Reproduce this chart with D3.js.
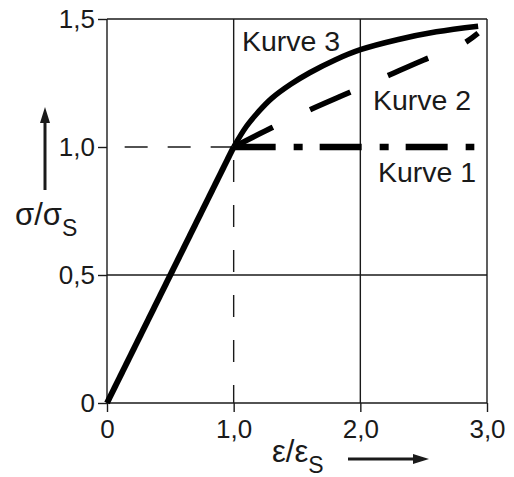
<!DOCTYPE html>
<html>
<head>
<meta charset="utf-8">
<script src="https://cdn.jsdelivr.net/npm/d3@7"></script>
<style>
  body { margin: 0; background: #fff; }
  svg { display: block; font-family: "Liberation Sans", Arial, sans-serif; }
</style>
</head>
<body>
<script>
// Data:
const xTicks = [0, 1, 2, 3];
const xTickLabels = ["0", "1,0", "2,0", "3,0"];
const yTicks = [0, 0.5, 1, 1.5];
const yTickLabels = ["0", "0,5", "1,0", "1,5"];

const elastic = [[0, 0], [1, 1]];
const kurve1 = [[1, 1], [2.9, 1]];
const kurve2 = [[1, 1], [1.3, 1.075], [1.6, 1.145], [1.9, 1.21], [2.2, 1.275], [2.5, 1.34], [2.8, 1.4], [2.93, 1.445]];
const kurve3 = [[1, 1], [1.1, 1.08], [1.2, 1.14], [1.3, 1.19], [1.45, 1.245], [1.6, 1.29], [1.8, 1.34], [2.0, 1.38], [2.3, 1.42], [2.6, 1.45], [2.93, 1.472]];

const curveLabels = [
  { text: "Kurve 3", x: 242, y: 51 },
  { text: "Kurve 2", x: 373, y: 110 },
  { text: "Kurve 1", x: 378, y: 182 }
];

// Variable setup:
const width = 514;
const height = 477;
const ink = "#1a1a1a";

const svg = d3.select("body").append("svg")
  .attr("width", width)
  .attr("height", height);

const xScale = d3.scaleLinear().domain([0, 3]).range([107, 487]);
const yScale = d3.scaleLinear().domain([0, 1.5]).range([403, 19]);

// Adding grid:
const grid = svg.append("g").attr("stroke", ink).attr("stroke-width", 1.4);

[0, 0.5, 1.5].forEach((v) => {
  grid.append("line")
    .attr("x1", xScale(0)).attr("x2", xScale(3))
    .attr("y1", yScale(v)).attr("y2", yScale(v));
});
[0, 2, 3].forEach((v) => {
  grid.append("line")
    .attr("x1", xScale(v)).attr("x2", xScale(v))
    .attr("y1", yScale(0)).attr("y2", yScale(1.5));
});
// x = 1 solid above the yield point, dashed below
grid.append("line")
  .attr("x1", xScale(1)).attr("x2", xScale(1))
  .attr("y1", yScale(1)).attr("y2", yScale(1.5));
grid.append("line")
  .attr("x1", xScale(1)).attr("x2", xScale(1))
  .attr("y1", yScale(1)).attr("y2", yScale(0))
  .attr("stroke-dasharray", "22,23")
  .attr("stroke-dashoffset", 32);
// y = 1 dashed from the yield point to the axis
grid.append("line")
  .attr("x1", xScale(1)).attr("x2", xScale(0))
  .attr("y1", yScale(1)).attr("y2", yScale(1))
  .attr("stroke-dasharray", "23,20");

// Adding axes:
const xAxis = d3.axisBottom(xScale)
  .tickValues(xTicks)
  .tickFormat((d, i) => xTickLabels[i])
  .tickSize(9)
  .tickPadding(8);
const yAxis = d3.axisLeft(yScale)
  .tickValues(yTicks)
  .tickFormat((d, i) => yTickLabels[i])
  .tickSize(9)
  .tickPadding(3);

[
  svg.append("g").attr("transform", `translate(0, ${yScale(0)})`).call(xAxis),
  svg.append("g").attr("transform", `translate(${xScale(0)}, 0)`).call(yAxis)
].forEach((g) => {
  g.select(".domain").remove();
  g.selectAll(".tick line").attr("stroke", ink).attr("stroke-width", 1.4);
  g.selectAll(".tick text")
    .attr("fill", ink)
    .style("font-size", "26px")
    .style("font-family", "'Liberation Sans', Arial, sans-serif");
});

// Adding curves:
const line = d3.line()
  .x((d) => xScale(d[0]))
  .y((d) => yScale(d[1]));
const smooth = d3.line()
  .x((d) => xScale(d[0]))
  .y((d) => yScale(d[1]))
  .curve(d3.curveCatmullRom.alpha(0.5));

svg.append("path")
  .attr("d", line(elastic))
  .attr("fill", "none").attr("stroke", "#000")
  .attr("stroke-width", 6);

svg.append("path")
  .attr("d", line(kurve1))
  .attr("fill", "none").attr("stroke", "#000")
  .attr("stroke-width", 6.5)
  .attr("stroke-dasharray", "42,18,9,17");

svg.append("path")
  .attr("d", smooth(kurve2))
  .attr("fill", "none").attr("stroke", "#000")
  .attr("stroke-width", 5.5)
  .attr("stroke-dasharray", "44,41");

svg.append("path")
  .attr("d", smooth(kurve3))
  .attr("fill", "none").attr("stroke", "#000")
  .attr("stroke-width", 5.5);

// Adding curve labels:
svg.selectAll(".curve-label")
  .data(curveLabels)
  .enter()
  .append("text")
  .attr("class", "curve-label")
  .attr("x", (d) => d.x)
  .attr("y", (d) => d.y)
  .attr("fill", ink)
  .style("font-size", "28.5px")
  .text((d) => d.text);

// Adding axis titles with arrows:
const yTitle = svg.append("text")
  .attr("x", 15).attr("y", 225)
  .attr("fill", ink)
  .style("font-size", "31px");
yTitle.append("tspan").text("σ/σ");
yTitle.append("tspan").attr("dy", 11).style("font-size", "23px").text("S");

svg.append("line")
  .attr("x1", 45).attr("x2", 45)
  .attr("y1", 190).attr("y2", 118)
  .attr("stroke", ink).attr("stroke-width", 3);
svg.append("path")
  .attr("d", "M45,107 L50,123 L40,123 Z")
  .attr("fill", ink);

const xTitle = svg.append("text")
  .attr("x", 272).attr("y", 462)
  .attr("fill", ink)
  .style("font-size", "31px");
xTitle.append("tspan").text("ε/ε");
xTitle.append("tspan").attr("dy", 11).style("font-size", "23px").text("S");

svg.append("line")
  .attr("x1", 348).attr("x2", 418)
  .attr("y1", 459).attr("y2", 459)
  .attr("stroke", ink).attr("stroke-width", 3);
svg.append("path")
  .attr("d", "M429,459 L413,454 L413,464 Z")
  .attr("fill", ink);
</script>
</body>
</html>
